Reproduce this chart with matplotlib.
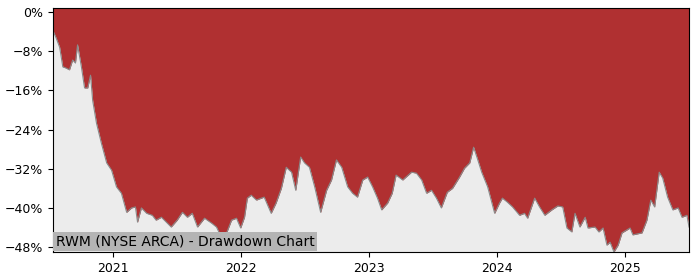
import matplotlib
matplotlib.use('Agg')
import matplotlib.pyplot as plt
import matplotlib.dates as mdates
import numpy as np
import pandas as pd
from matplotlib.ticker import PercentFormatter

# drawdown (percent below running peak)
dates = [
    '2020-07-15', '2020-07-24', '2020-08-03', '2020-08-12', '2020-08-20', '2020-08-31',
    '2020-09-09', '2020-09-17', '2020-09-23', '2020-10-04', '2020-10-13', '2020-10-22',
    '2020-10-30', '2020-11-05', '2020-11-16', '2020-11-30', '2020-12-15', '2020-12-29',
    '2021-01-12', '2021-01-26', '2021-02-10', '2021-02-24', '2021-03-07', '2021-03-13',
    '2021-03-24', '2021-04-08', '2021-04-24', '2021-05-05', '2021-05-20', '2021-06-17',
    '2021-07-04', '2021-07-19', '2021-08-02', '2021-08-16', '2021-08-31', '2021-09-20',
    '2021-10-10', '2021-10-24', '2021-11-07', '2021-11-13', '2021-11-22', '2021-12-06',
    '2021-12-20', '2022-01-01', '2022-01-12', '2022-01-20', '2022-01-31', '2022-02-15',
    '2022-03-01', '2022-03-09', '2022-03-29', '2022-04-12', '2022-04-27', '2022-05-11',
    '2022-05-26', '2022-06-07', '2022-06-21', '2022-07-02', '2022-07-16', '2022-07-31',
    '2022-08-17', '2022-09-03', '2022-09-17', '2022-10-01', '2022-10-16', '2022-11-02',
    '2022-11-16', '2022-11-30', '2022-12-15', '2022-12-29', '2023-01-12', '2023-01-26',
    '2023-02-07', '2023-02-24', '2023-03-09', '2023-03-20', '2023-04-08', '2023-05-03',
    '2023-05-17', '2023-06-01', '2023-06-15', '2023-06-29', '2023-07-13', '2023-07-27',
    '2023-08-13', '2023-08-28', '2023-09-17', '2023-10-01', '2023-10-16', '2023-10-27',
    '2023-11-08', '2023-11-19', '2023-12-06', '2023-12-26', '2024-01-09', '2024-01-17',
    '2024-01-31', '2024-02-15', '2024-03-06', '2024-03-20', '2024-03-29', '2024-04-18',
    '2024-05-02', '2024-05-17', '2024-06-06', '2024-06-23', '2024-07-07', '2024-07-19',
    '2024-08-02', '2024-08-11', '2024-08-25', '2024-09-09', '2024-09-17', '2024-10-07',
    '2024-10-18', '2024-10-30', '2024-11-10', '2024-11-19', '2024-11-30', '2024-12-12',
    '2024-12-23', '2025-01-06', '2025-01-15', '2025-01-23', '2025-02-18', '2025-03-04',
    '2025-03-15', '2025-03-26', '2025-04-08', '2025-04-18', '2025-05-02', '2025-05-17',
    '2025-06-01', '2025-06-12', '2025-06-26', '2025-07-02',
]
drawdown = [
    -3.8, -5.3, -7.2, -11.2, -11.4, -11.8,
    -9.8, -10.4, -6.7, -11.2, -15.5, -15.5,
    -12.9, -18.0, -22.7, -26.8, -30.8, -32.3,
    -35.7, -37.0, -40.9, -40.0, -39.8, -42.9,
    -40.0, -41.1, -41.5, -42.5, -41.9, -43.9,
    -42.5, -40.9, -41.9, -41.1, -43.9, -42.1,
    -43.1, -43.9, -46.0, -46.6, -45.1, -42.5,
    -42.1, -44.1, -41.9, -38.0, -37.4, -38.4,
    -38.0, -37.8, -41.1, -39.0, -36.0, -31.7,
    -32.7, -36.4, -29.6, -30.8, -31.7, -35.7,
    -40.9, -36.4, -34.3, -30.2, -31.7, -35.7,
    -37.0, -37.8, -34.3, -33.7, -35.7, -38.0,
    -40.4, -39.0, -37.0, -33.3, -34.3, -32.7,
    -32.9, -34.3, -37.0, -36.4, -38.0, -40.0,
    -36.8, -36.0, -33.7, -31.9, -30.8, -27.6,
    -30.2, -32.7, -35.7, -41.1, -39.0, -38.0,
    -38.8, -39.8, -41.5, -41.1, -42.1, -38.0,
    -39.8, -41.5, -40.4, -39.6, -39.8, -44.1,
    -44.9, -41.1, -43.9, -41.9, -44.1, -43.9,
    -44.9, -44.1, -47.6, -47.0, -49.0, -47.6,
    -45.1, -44.5, -44.1, -45.5, -45.1, -42.5,
    -38.4, -39.8, -32.7, -33.9, -37.8, -40.4,
    -40.0, -41.9, -41.5, -43.9,
]
yticks = [0, -8, -16, -24, -32, -40, -48]
title = 'RWM (NYSE ARCA) - Drawdown Chart'

x = pd.to_datetime(dates)
dd = np.array(drawdown)
ytop = 0.8

fig = plt.figure(figsize=(7, 2.8), dpi=100)
ax = fig.add_axes([0.0757, 0.1, 0.9086, 0.871])
ax.set_facecolor('#ececec')

# red area runs from the curve all the way up to the top of the axes
ax.fill_between(x, dd, ytop, color='#b03031', lw=0)
ax.plot(x, dd, color='#8a8a8a', lw=0.8)

ax.set_xlim(x[0], x[-1])
ax.set_ylim(dd.min(), ytop)
ax.set_yticks(yticks)
ax.yaxis.set_major_formatter(PercentFormatter(decimals=0))
ax.xaxis.set_major_locator(mdates.YearLocator())
ax.xaxis.set_major_formatter(mdates.DateFormatter('%Y'))
ax.tick_params(labelsize=9)

ax.text(0.004, 0.015, title, transform=ax.transAxes, fontsize=10,
        ha='left', va='bottom',
        bbox=dict(facecolor='#b4b4b4', edgecolor='none', pad=2))

fig.savefig('out.png', dpi=100)
